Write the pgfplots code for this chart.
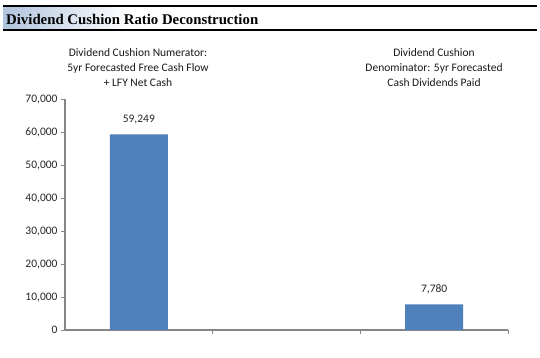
\documentclass[border=0pt]{standalone}
\usepackage{pgfplots}
\pgfplotsset{compat=1.18}
\usepackage{fontspec}
\setmainfont{Carlito}
\newfontfamily\titlefont{Liberation Serif}
\definecolor{barblue}{HTML}{4F81BD}
\definecolor{axgray}{HTML}{868686}
\definecolor{gradblue}{RGB}{176,196,222}
\begin{document}
\begin{tikzpicture}[x=1bp,y=1bp]
\fill[white] (0,0) rectangle (540,357);
% title bar
\shade[left color=gradblue,right color=white] (3,327) rectangle (130,350);
\draw[black,line width=1.5bp] (3,351) -- (537,351);
\draw[black,line width=1.5bp] (3,327) -- (537,327);
\node[anchor=base west,inner sep=0] at (6,333) {\titlefont\bfseries\fontsize{14.8bp}{16bp}\selectfont Dividend Cushion Ratio Deconstruction};
\begin{axis}[
  at={(65bp,27bp)}, anchor=south west,
  scale only axis, width=443bp, height=231bp,
  xmin=-0.5, xmax=2.5, ymin=0, ymax=70000,
  axis lines=left,
  axis line style={-, axgray, line width=1.4bp},
  xtick={0.5,1.5,2.5}, xticklabels={},
  ytick={0,10000,...,70000},
  tick align=outside,
  major tick length=4bp,
  tick style={axgray, line width=1bp},
  scaled y ticks=false,
  yticklabel style={font=\fontsize{11.5bp}{13bp}\selectfont, text=black!85},
  /pgf/number format/assume math mode=true,
  /pgf/number format/1000 sep={,},
  ybar, bar width=58bp,
  nodes near coords,
  every node near coord/.append style={anchor=center, yshift=15bp, font=\fontsize{11.5bp}{13bp}\selectfont, text=black!85},
  clip=false,
]
\addplot[fill=barblue, draw=none] coordinates {(0,59249) (2,7780)};
\end{axis}
\node[align=center, font=\fontsize{11.5bp}{15bp}\selectfont, text=black!90] at (138,289) {Dividend Cushion Numerator:\\5yr Forecasted Free Cash Flow\\+ LFY Net Cash};
\node[align=center, font=\fontsize{11.5bp}{15bp}\selectfont, text=black!90] at (434,289) {Dividend Cushion\\Denominator: 5yr Forecasted\\Cash Dividends Paid};
\end{tikzpicture}
\end{document}
